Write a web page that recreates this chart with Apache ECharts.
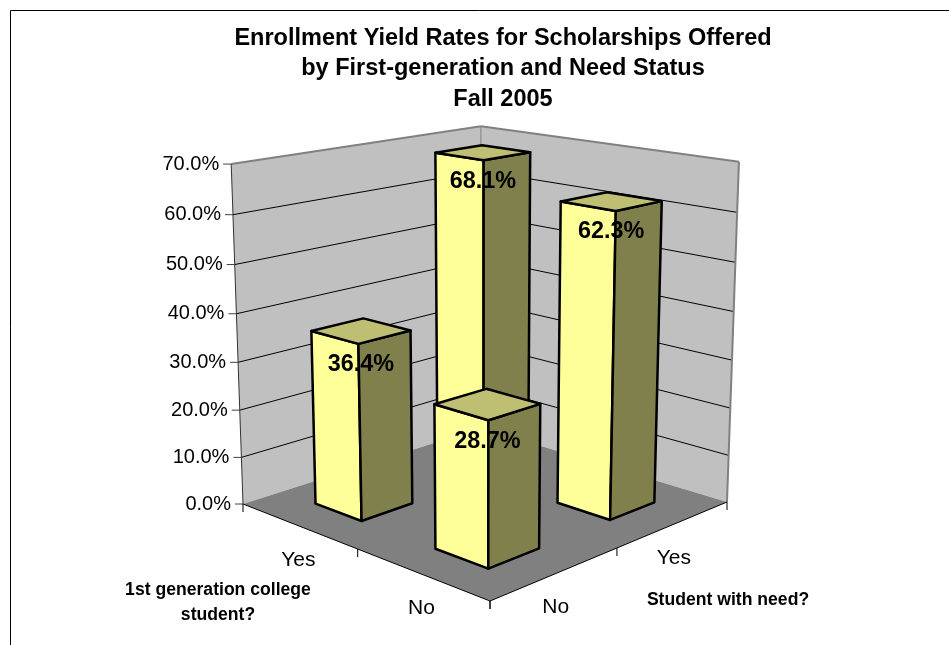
<!DOCTYPE html>
<html>
<head>
<meta charset="utf-8">
<style>html,body{margin:0;padding:0;background:#fff}#c{width:949px;height:645px}</style>
<script src="https://cdn.jsdelivr.net/npm/echarts@6/dist/echarts.min.js"></script>
</head>
<body>
<div id="c"></div>
<script>
var titleLines = ['Enrollment Yield Rates for Scholarships Offered', 'by First-generation and Need Status', 'Fall 2005'];
var needCategories = ['No', 'Yes'];
var firstGenCategories = ['No', 'Yes'];
var needName = 'Student with need?';
var firstGenName = '1st generation college\nstudent?';
var yTicks = [0, 10, 20, 30, 40, 50, 60, 70];
var yTickLabels = ['0.0%', '10.0%', '20.0%', '30.0%', '40.0%', '50.0%', '60.0%', '70.0%'];
// painter's order, back to front
var barNeed = [1, 0, 1, 0];
var barFirstGen = [1, 1, 0, 0];
var barValues = [68.1, 36.4, 62.3, 28.7];

// ---- projection set-up (layout only)
var FLOOR = { F: [490, 601], R: [727, 502], L: [243, 504], B: [481, 428] };
var TOPS = { L: [230, 163], R: [740, 162], B: [481, 127] };
var BAR_HALF = 0.2;
var FONT = '"Liberation Sans", Arial, sans-serif';

var H = (function () {
  var F = FLOOR.F, R = FLOOR.R, L = FLOOR.L, B = FLOOR.B;
  var dx1 = R[0] - B[0], dx2 = L[0] - B[0], sx = F[0] - R[0] + B[0] - L[0];
  var dy1 = R[1] - B[1], dy2 = L[1] - B[1], sy = F[1] - R[1] + B[1] - L[1];
  var det = dx1 * dy2 - dx2 * dy1;
  var g = (sx * dy2 - dx2 * sy) / det, h = (dx1 * sy - sx * dy1) / det;
  return { a: R[0] - F[0] + g * R[0], b: L[0] - F[0] + h * L[0], c: F[0],
           d: R[1] - F[1] + g * R[1], e: L[1] - F[1] + h * L[1], f: F[1], g: g, h: h };
})();
function hom(u, v) {
  return [H.a * u + H.b * v + H.c, H.d * u + H.e * v + H.f, H.g * u + H.h * v + 1];
}
// vertical direction fitted to the three wall-top corners (heights weighted above x)
var A = (function () {
  var pairs = [[1, 0, TOPS.R], [0, 1, TOPS.L], [1, 1, TOPS.B]];
  var M = [[0,0,0,0],[0,0,0,0],[0,0,0,0]];
  function add(r, val, wt) {
    for (var i = 0; i < 3; i++) { for (var j = 0; j < 3; j++) M[i][j] += wt * r[i] * r[j]; M[i][3] += wt * r[i] * val; }
  }
  pairs.forEach(function (p) {
    var q = hom(p[0], p[1]), T = p[2];
    add([1, 0, -T[0]], T[0] * q[2] - q[0], 0.05);
    add([0, 1, -T[1]], T[1] * q[2] - q[1], 1);
  });
  for (var i = 0; i < 3; i++) {
    for (var k = i + 1; k < 3; k++) {
      var m = M[k][i] / M[i][i];
      for (var j = i; j < 4; j++) M[k][j] -= m * M[i][j];
    }
  }
  var s = [0, 0, 0];
  for (i = 2; i >= 0; i--) {
    var t = M[i][3];
    for (j = i + 1; j < 3; j++) t -= M[i][j] * s[j];
    s[i] = t / M[i][i];
  }
  return s;
})();
function proj(u, v, t) {
  var q = hom(u, v), w = q[2] + t * A[2];
  return [(q[0] + t * A[0]) / w, (q[1] + t * A[1]) / w];
}
function poly(points, fill, stroke, lw) {
  return { type: 'polygon', shape: { points: points }, silent: true,
           style: { fill: fill, stroke: stroke || 'none', lineWidth: lw || 0, lineJoin: 'round' } };
}
function line(a, b, stroke, lw) {
  return { type: 'polyline', shape: { points: [a, b] }, silent: true,
           style: { fill: 'none', stroke: stroke, lineWidth: lw } };
}
function label(text, p, font, align) {
  return { type: 'text', silent: true,
           style: { text: text, x: p[0], y: p[1], fill: '#000', font: font, align: align || 'center', verticalAlign: 'middle', lineHeight: 25 } };
}
function normU(api, x) { return api.coord([x, 0])[0] / api.getWidth(); }
function normT(api, y) { return 1 - api.coord([0, y])[1] / api.getHeight(); }

function renderFrame(params, api) {
  var c = [];
  var T = normT(api, yTicks[yTicks.length - 1]);
  var L0 = proj(0, 1, 0), B0 = proj(1, 1, 0), R0 = proj(1, 0, 0), F0 = proj(0, 0, 0);
  var L1 = proj(0, 1, T), B1 = proj(1, 1, T), R1 = proj(1, 0, T);
  c.push(poly([L0, B0, B1, L1], '#C0C0C0'));
  c.push(poly([R0, B0, B1, R1], '#C0C0C0'));
  c.push(poly([F0, R0, B0, L0], '#808080'));
  yTicks.forEach(function (tick, i) {
    var t = normT(api, tick);
    var a = proj(0, 1, t), b = proj(1, 1, t), d = proj(1, 0, t);
    if (i > 0 && i < yTicks.length - 1) {
      c.push(line(a, b, '#000', 1));
      c.push(line(b, d, '#000', 1));
    }
    c.push(line([a[0] - 8, a[1]], a, '#404040', 1));
    c.push(label(yTickLabels[i], [a[0] - 12, a[1]], '20px ' + FONT, 'right'));
  });
  c.push(line(L1, B1, '#808080', 2));
  c.push(line(B1, R1, '#808080', 2));
  c.push(line(B1, B0, '#808080', 1));
  c.push(line(R1, R0, '#808080', 2));
  c.push(line(L1, L0, '#333', 1));
  c.push(line(L0, F0, '#000', 1));
  c.push(line(F0, R0, '#000', 1));
  [0, 1, 2].forEach(function (k) {
    var s = normU(api, k);
    var a = proj(0, s, 0), b = proj(s, 0, 0);
    c.push(line(a, [a[0], a[1] + 8], '#000', 1));
    c.push(line(b, [b[0], b[1] + 8], '#000', 1));
  });
  firstGenCategories.forEach(function (name, i) {
    var p = proj(0, normU(api, i + 0.5), 0);
    c.push(label(name, [p[0], p[1] + 34], '21px ' + FONT));
  });
  needCategories.forEach(function (name, i) {
    var p = proj(normU(api, i + 0.5), 0, 0);
    c.push(label(name, [p[0], p[1] + 34], '21px ' + FONT));
  });
  c.push(label(firstGenName, [218, 603], 'bold 17.6px ' + FONT));
  c.push(label(needName, [728, 600], 'bold 17.6px ' + FONT));
  return { type: 'group', children: c };
}

function renderBar(params, api) {
  var need = api.value(0), gen = api.value(1), val = api.value(2);
  var u0 = normU(api, need + 0.5 - BAR_HALF), u1 = normU(api, need + 0.5 + BAR_HALF);
  var v0 = normU(api, gen + 0.5 - BAR_HALF), v1 = normU(api, gen + 0.5 + BAR_HALF);
  var t = normT(api, val);
  var sw = 2.5;
  var a0 = proj(u0, v1, 0), f0 = proj(u0, v0, 0), r0 = proj(u1, v0, 0);
  var a1 = proj(u0, v1, t), f1 = proj(u0, v0, t), r1 = proj(u1, v0, t), b1 = proj(u1, v1, t);
  var centre = proj((u0 + u1) / 2, (v0 + v1) / 2, t);
  return { type: 'group', children: [
    poly([a0, f0, f1, a1], '#FFFF99', '#000', sw),
    poly([f0, r0, r1, f1], '#80804D', '#000', sw),
    poly([a1, f1, r1, b1], '#BFBF73', '#000', sw),
    label(val.toFixed(1) + '%', [centre[0], f1[1] + 21], 'bold 23.4px ' + FONT)
  ] };
}

var chart = echarts.init(document.getElementById('c'), null, { renderer: 'canvas' });
chart.setOption({
  animation: false,
  backgroundColor: '#fff',
  title: {
    text: titleLines.join('\n'),
    left: 498, top: 18, textAlign: 'center',
    textStyle: { fontFamily: FONT, fontWeight: 'bold', fontSize: 23.5, lineHeight: 30.5, color: '#000' }
  },
  grid: { left: 0, right: 0, top: 0, bottom: 0 },
  xAxis: { type: 'value', min: 0, max: needCategories.length, show: false },
  yAxis: { type: 'value', min: yTicks[0], max: yTicks[yTicks.length - 1], interval: 10, show: false },
  tooltip: { show: false },
  graphic: [{ type: 'polyline', silent: true, shape: { points: [[10.5, 645], [10.5, 10.5], [949, 10.5]] }, style: { fill: 'none', stroke: '#000', lineWidth: 1 } }],
  series: [
    { type: 'custom', name: 'frame', renderItem: renderFrame, data: [[0, 0]], silent: true, z: 1, clip: false },
    { type: 'custom', name: 'Yield', renderItem: renderBar, silent: true, z: 2, clip: false,
      data: barValues.map(function (v, i) { return [barNeed[i], barFirstGen[i], v]; }) }
  ]
});
</script>
</body>
</html>
